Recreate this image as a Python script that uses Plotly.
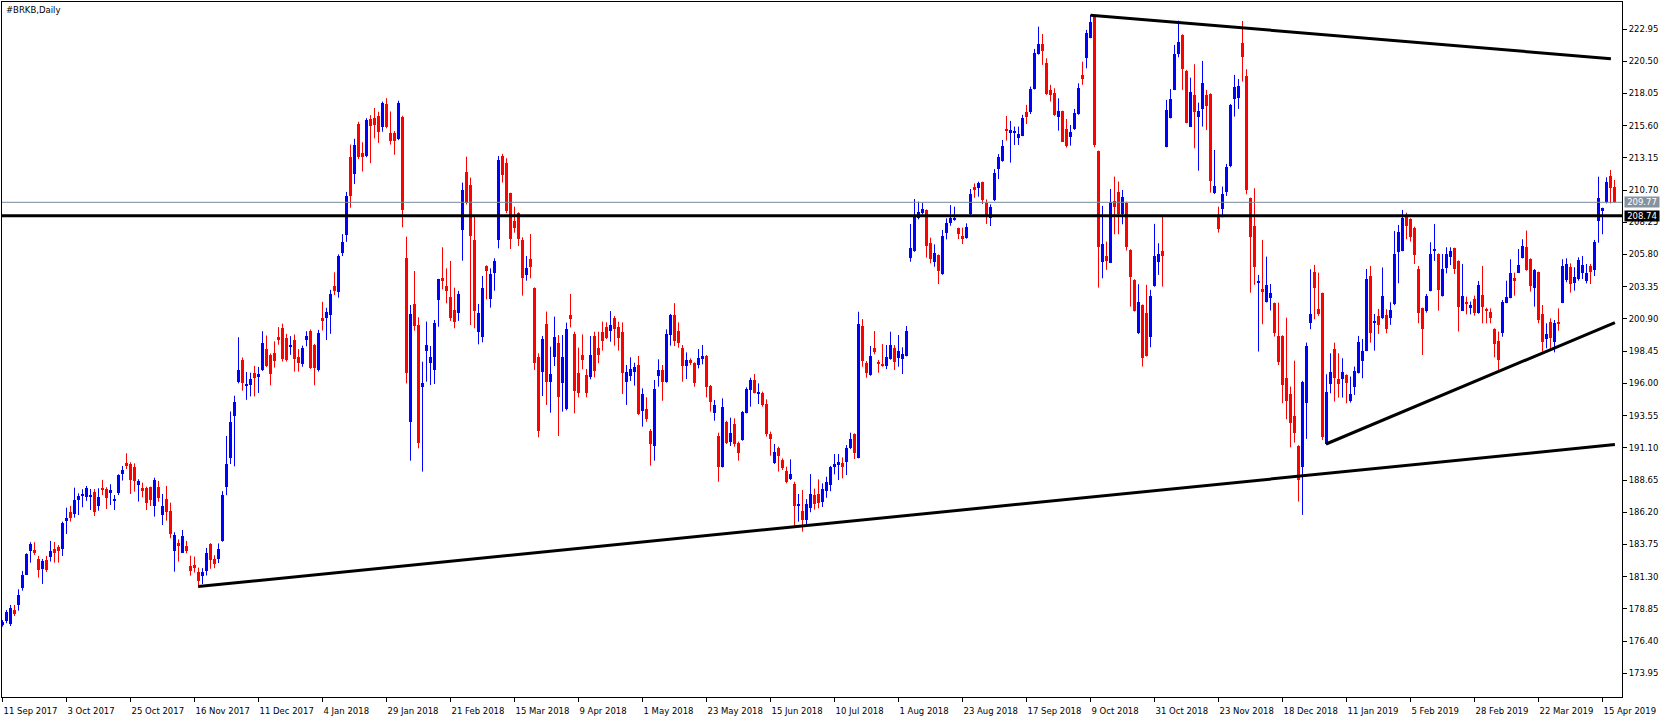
import plotly.graph_objects as go

title_text = "#BRKB,Daily"

date_labels = ["11 Sep 2017", "3 Oct 2017", "25 Oct 2017", "16 Nov 2017", "11 Dec 2017",
               "4 Jan 2018", "29 Jan 2018", "21 Feb 2018", "15 Mar 2018", "9 Apr 2018",
               "1 May 2018", "23 May 2018", "15 Jun 2018", "10 Jul 2018", "1 Aug 2018",
               "23 Aug 2018", "17 Sep 2018", "9 Oct 2018", "31 Oct 2018", "23 Nov 2018",
               "18 Dec 2018", "11 Jan 2019", "5 Feb 2019", "28 Feb 2019", "22 Mar 2019",
               "15 Apr 2019"]
date_label_bars = [0, 16, 32, 48, 64, 80, 96, 112, 128, 144, 160, 176, 192, 208, 224,
                   240, 256, 272, 288, 304, 320, 336, 352, 368, 384, 400]

price_ticks = [173.95, 176.40, 178.85, 181.30, 183.75, 186.20, 188.65, 191.10, 193.55,
               196.00, 198.45, 200.90, 203.35, 205.80, 208.25, 210.70, 213.15, 215.60,
               218.05, 220.50, 222.95]

opens = [177.63, 177.96, 177.71, 178.77, 179.15, 180.42, 181.43, 183.28, 183.33, 182.65,
         181.89, 182.57, 182.77, 183.41, 183.59, 183.41, 185.56, 186.25, 186.07, 187.13,
         187.46, 187.39, 187.41, 187.74, 186.68, 188.07, 187.97, 187.69, 187.08, 187.69,
         189.11, 189.92, 189.87, 189.62, 188.28, 188.07, 188.07, 188.12, 186.68, 188.15,
         185.99, 187.21, 186.30, 183.28, 183.89, 183.13, 183.64, 182.14, 182.19, 181.68,
         181.34, 181.77, 183.78, 182.62, 182.67, 184.03, 188.15, 190.33, 193.55, 196.12,
         197.76, 195.78, 195.86, 196.81, 196.55, 196.99, 198.61, 198.17, 198.30, 199.51,
         200.20, 199.46, 198.84, 199.30, 198.02, 197.51, 199.30, 200.02, 198.92, 196.99,
         200.98, 201.00, 201.18, 203.42, 202.98, 205.94, 207.30, 213.19, 211.93, 215.76,
         213.52, 213.26, 216.09, 216.17, 216.35, 215.53, 217.25, 215.06, 215.06, 214.55,
         216.22, 205.56, 193.09, 202.01, 200.44, 195.70, 198.49, 197.58, 197.02, 202.34,
         204.04, 203.43, 202.60, 201.58, 201.38, 207.67, 212.10, 211.09, 206.91, 199.93,
         199.55, 204.93, 202.39, 204.37, 206.91, 213.29, 212.79, 210.45, 208.35, 208.93,
         206.91, 204.24, 205.44, 203.23, 197.98, 196.89, 200.49, 196.13, 198.03, 199.05,
         196.00, 194.03, 201.20, 199.76, 196.77, 198.16, 196.64, 196.51, 199.60, 198.72,
         199.93, 200.26, 199.98, 200.95, 200.31, 199.88, 196.13, 196.59, 196.89, 197.40,
         193.92, 194.05, 192.38, 191.26, 196.56, 197.02, 196.13, 199.68, 201.20, 199.98,
         198.66, 197.35, 197.78, 197.52, 197.40, 197.85, 198.11, 195.80, 193.72, 191.99,
         189.67, 193.04, 191.52, 192.91, 191.44, 191.69, 193.77, 195.50, 196.26, 195.22,
         195.24, 194.43, 192.12, 189.97, 191.06, 190.17, 189.36, 188.73, 188.35, 186.67,
         186.32, 185.60, 186.50, 187.50, 187.60, 187.00, 187.80, 188.30, 189.61, 189.79,
         189.97, 189.99, 191.11, 192.15, 190.35, 200.39, 197.57, 196.64, 198.66, 197.55,
         197.47, 197.35, 197.85, 198.66, 197.95, 197.85, 198.11, 205.51, 206.09, 208.55,
         208.98, 209.18, 206.70, 205.20, 205.76, 204.32, 207.46, 208.17, 208.45, 207.79,
         207.23, 207.08, 208.85, 210.91, 210.83, 211.29, 209.69, 208.60, 209.94, 212.30,
         212.91, 215.35, 215.07, 215.07, 214.69, 214.82, 216.62, 216.67, 218.39, 221.03,
         221.81, 220.40, 218.32, 218.06, 216.29, 216.72, 215.35, 214.77, 215.33, 216.47,
         219.46, 220.78, 222.30, 223.94, 213.68, 205.26, 205.69, 205.19, 209.88, 210.59,
         208.89, 209.75, 206.15, 203.87, 199.81, 201.97, 201.33, 199.51, 203.41, 205.21,
         206.07, 214.01, 216.21, 218.32, 221.05, 222.50, 219.76, 215.53, 217.94, 216.24,
         216.85, 217.94, 218.01, 210.46, 208.81, 209.27, 210.59, 212.56, 217.61, 217.73,
         221.92, 219.38, 210.08, 207.97, 203.66, 203.18, 202.22, 202.47, 202.09, 199.61,
         199.61, 196.39, 195.20, 193.53, 191.24, 189.67, 194.49, 200.62, 204.50, 201.66,
         202.85, 191.40, 195.93, 198.59, 196.34, 196.31, 196.64, 194.69, 195.76, 196.82,
         197.73, 198.49, 204.17, 200.62, 201.13, 200.95, 201.21, 200.95, 202.02, 205.97,
         206.10, 208.68, 208.48, 207.79, 204.68, 201.71, 201.53, 203.05, 206.10, 205.84,
         202.65, 204.75, 205.64, 206.27, 205.31, 201.53, 202.17, 201.76, 202.42, 201.33,
         202.72, 201.66, 201.46, 200.14, 199.25, 199.86, 202.14, 202.52, 204.04, 204.42,
         205.51, 206.35, 205.46, 203.28, 204.45, 201.28, 199.38, 200.70, 199.17, 200.65,
         202.14, 203.86, 204.83, 203.61, 203.94, 204.37, 203.81, 204.93, 204.62, 208.38,
         209.11, 209.77, 211.77, 210.91]

highs = [178.00, 178.77, 179.15, 179.15, 180.34, 181.74, 183.08, 183.92, 183.92, 182.88,
         182.65, 182.88, 184.02, 183.94, 183.71, 185.49, 186.55, 186.68, 188.07, 187.64,
         187.95, 188.20, 187.97, 187.97, 188.02, 188.66, 188.10, 188.33, 187.51, 189.09,
         189.72, 190.68, 190.00, 189.92, 188.71, 188.45, 188.15, 188.15, 188.83, 188.58,
         187.59, 188.20, 186.93, 184.68, 184.14, 184.85, 184.02, 182.90, 182.83, 181.99,
         181.95, 183.49, 183.85, 182.93, 183.83, 187.81, 192.00, 193.86, 195.06, 199.51,
         197.97, 196.86, 196.81, 197.33, 197.25, 199.97, 199.64, 198.28, 199.20, 200.28,
         200.54, 199.77, 199.59, 199.72, 198.61, 198.87, 199.97, 200.10, 199.00, 200.07,
         202.21, 201.75, 203.11, 204.45, 205.81, 207.35, 210.56, 214.16, 214.60, 215.89,
         214.34, 216.17, 216.40, 216.94, 216.66, 217.43, 217.69, 216.68, 215.19, 217.50,
         216.35, 207.16, 201.96, 204.55, 201.03, 197.65, 200.70, 198.84, 200.82, 203.95,
         206.35, 204.75, 205.31, 203.28, 203.03, 211.27, 213.24, 211.65, 208.68, 202.04,
         204.17, 204.98, 204.75, 205.51, 213.29, 213.45, 213.12, 210.50, 209.44, 209.01,
         207.11, 205.69, 207.36, 203.30, 198.29, 199.60, 201.46, 198.79, 201.08, 199.68,
         199.68, 200.62, 202.80, 199.93, 198.72, 199.73, 197.09, 199.60, 199.93, 199.93,
         200.70, 200.64, 201.50, 201.12, 200.69, 200.64, 197.40, 197.98, 197.57, 198.08,
         195.62, 194.94, 192.53, 196.26, 197.83, 197.40, 200.11, 201.28, 202.10, 200.64,
         198.92, 198.36, 197.90, 197.60, 198.61, 198.92, 198.16, 195.88, 194.74, 192.25,
         194.86, 193.16, 193.39, 193.34, 191.57, 193.90, 195.70, 196.43, 196.71, 196.00,
         195.37, 194.79, 192.33, 191.39, 191.19, 190.30, 189.67, 190.22, 188.52, 187.59,
         187.89, 187.20, 189.10, 188.00, 188.70, 188.40, 188.90, 189.72, 190.63, 190.63,
         190.37, 191.31, 192.25, 192.20, 201.45, 200.89, 197.70, 198.84, 199.98, 197.78,
         198.99, 198.92, 199.93, 198.92, 199.68, 198.74, 200.36, 208.12, 210.02, 209.82,
         209.74, 209.23, 207.08, 206.57, 205.81, 207.66, 208.55, 209.56, 209.44, 207.84,
         207.84, 208.17, 210.78, 211.21, 211.34, 211.34, 209.99, 209.61, 212.30, 213.44,
         214.51, 216.34, 215.96, 215.53, 215.53, 216.42, 217.18, 218.57, 221.43, 223.13,
         222.57, 220.72, 218.70, 218.44, 217.68, 216.74, 216.11, 215.65, 216.87, 218.82,
         220.47, 222.88, 224.02, 224.02, 213.70, 209.50, 206.78, 210.79, 211.73, 211.35,
         210.71, 209.82, 206.20, 203.92, 203.54, 202.00, 203.49, 203.11, 208.13, 206.66,
         208.68, 217.56, 218.39, 221.74, 223.59, 222.55, 219.84, 219.25, 220.27, 217.35,
         220.52, 218.32, 218.06, 213.75, 209.44, 210.97, 212.69, 217.25, 219.46, 219.15,
         223.56, 219.89, 210.13, 210.84, 204.25, 206.91, 205.64, 203.56, 202.14, 202.14,
         199.66, 201.00, 195.76, 197.73, 191.30, 196.19, 199.10, 204.68, 205.01, 204.42,
         202.90, 196.69, 198.29, 199.10, 198.29, 197.91, 196.69, 196.52, 197.28, 199.61,
         199.38, 204.70, 204.93, 201.28, 201.66, 204.81, 201.64, 202.17, 207.59, 208.05,
         209.19, 208.98, 208.55, 207.92, 204.93, 201.76, 202.80, 206.73, 208.12, 205.89,
         205.84, 206.35, 206.35, 206.32, 205.36, 205.08, 202.60, 202.22, 202.67, 203.79,
         204.93, 201.76, 201.71, 200.19, 199.94, 202.34, 203.81, 205.44, 204.42, 206.22,
         206.96, 207.62, 205.51, 204.70, 204.50, 201.96, 200.57, 200.95, 200.82, 201.71,
         205.44, 205.51, 205.13, 204.83, 205.59, 205.69, 205.08, 205.08, 206.91, 211.72,
         209.36, 211.67, 212.23, 211.47]

lows = [177.50, 177.76, 177.55, 178.31, 178.72, 180.24, 181.43, 182.37, 182.95, 181.23,
        180.75, 181.66, 182.45, 182.37, 182.37, 182.88, 184.55, 185.49, 185.79, 185.99,
        186.58, 187.06, 186.37, 185.92, 186.32, 187.51, 186.45, 186.75, 186.37, 187.51,
        188.61, 189.49, 187.59, 187.77, 187.01, 187.34, 186.37, 186.68, 185.87, 187.01,
        185.23, 185.56, 184.22, 181.68, 182.45, 183.13, 183.08, 181.38, 181.61, 180.59,
        180.74, 181.39, 181.90, 181.95, 182.34, 183.96, 187.50, 189.87, 189.69, 196.00,
        195.45, 194.75, 195.01, 195.01, 195.27, 196.94, 197.25, 195.86, 197.20, 198.94,
        197.66, 197.66, 198.17, 196.89, 196.89, 197.27, 198.82, 197.10, 195.86, 196.90,
        200.02, 199.30, 199.77, 202.72, 202.52, 205.68, 206.76, 209.36, 211.16, 213.06,
        212.11, 213.20, 212.75, 214.63, 214.29, 215.14, 215.40, 214.16, 213.39, 214.50,
        207.87, 196.00, 190.12, 200.01, 191.06, 189.29, 196.13, 195.88, 195.95, 200.31,
        203.15, 202.09, 200.75, 200.19, 200.75, 205.33, 209.60, 200.44, 200.19, 198.97,
        199.12, 202.39, 201.76, 203.05, 206.27, 211.27, 208.95, 206.22, 207.46, 206.45,
        202.67, 203.81, 203.99, 197.02, 191.90, 195.04, 194.36, 193.77, 197.32, 192.00,
        193.85, 193.95, 200.26, 193.72, 194.94, 197.07, 194.94, 196.31, 196.46, 197.53,
        198.49, 199.38, 199.17, 198.87, 198.49, 195.19, 194.36, 196.18, 195.83, 193.60,
        192.71, 193.09, 189.74, 190.12, 195.75, 194.68, 196.05, 198.87, 198.84, 198.72,
        196.13, 196.33, 197.40, 195.75, 197.14, 197.45, 194.94, 193.85, 193.16, 188.52,
        189.60, 191.39, 191.24, 191.19, 190.12, 191.64, 193.72, 194.23, 195.24, 194.43,
        194.23, 191.95, 190.50, 189.87, 189.29, 189.41, 188.40, 188.65, 185.15, 185.48,
        184.72, 185.20, 186.20, 186.40, 186.50, 186.60, 187.30, 187.80, 189.08, 188.65,
        188.78, 189.03, 191.01, 190.25, 190.30, 197.27, 196.43, 196.58, 198.21, 196.81,
        197.27, 197.09, 197.80, 197.02, 197.27, 196.71, 198.05, 205.25, 206.00, 208.47,
        208.85, 205.56, 205.13, 204.87, 203.56, 204.25, 206.95, 207.99, 208.37, 206.98,
        206.60, 207.00, 208.80, 210.12, 210.20, 209.64, 208.12, 207.97, 209.87, 211.54,
        212.85, 214.46, 212.79, 214.13, 214.13, 214.80, 215.73, 216.49, 218.35, 221.00,
        220.22, 217.94, 217.43, 216.34, 215.22, 214.36, 213.93, 214.08, 215.27, 216.42,
        218.70, 219.96, 222.25, 213.96, 203.28, 203.99, 204.63, 205.15, 207.34, 207.34,
        208.10, 206.10, 201.84, 201.46, 199.75, 197.28, 198.04, 198.75, 203.35, 204.25,
        203.36, 213.95, 216.15, 218.30, 220.80, 218.32, 215.78, 215.50, 213.88, 212.18,
        215.53, 215.27, 210.51, 210.40, 207.47, 208.63, 210.26, 212.44, 216.29, 216.87,
        218.95, 210.38, 202.90, 203.49, 198.42, 200.50, 202.15, 201.54, 199.56, 197.40,
        194.49, 193.27, 191.14, 191.50, 187.01, 186.00, 191.78, 200.12, 200.88, 201.13,
        191.70, 191.32, 195.25, 194.62, 194.92, 194.92, 194.49, 194.54, 195.12, 196.75,
        196.39, 198.45, 199.10, 198.49, 199.76, 200.90, 199.81, 200.45, 201.95, 203.61,
        206.05, 206.96, 206.78, 205.08, 200.57, 198.16, 201.38, 203.00, 205.31, 201.53,
        202.60, 204.37, 205.00, 204.32, 199.94, 201.50, 201.25, 201.25, 201.15, 201.30,
        200.57, 200.57, 200.57, 197.98, 196.97, 199.55, 202.10, 202.47, 202.67, 204.40,
        205.50, 204.57, 202.98, 201.84, 200.57, 198.41, 198.67, 198.49, 198.36, 200.01,
        202.10, 203.69, 202.90, 203.05, 203.81, 203.94, 203.61, 203.56, 204.17, 206.70,
        207.34, 209.69, 209.69, 209.75]

closes = [177.83, 178.64, 178.90, 178.47, 179.91, 181.43, 183.03, 183.79, 183.08, 181.81,
          182.50, 181.81, 183.26, 183.08, 183.26, 185.41, 185.74, 185.79, 187.13, 187.46,
          187.54, 188.02, 187.46, 186.25, 187.39, 187.89, 187.31, 187.89, 187.24, 189.04,
          189.42, 189.72, 188.66, 188.61, 188.61, 187.84, 186.93, 187.13, 188.66, 187.26,
          186.68, 186.25, 184.55, 184.47, 183.66, 184.40, 183.28, 181.74, 181.99, 181.00,
          181.64, 183.13, 182.54, 182.29, 183.44, 187.48, 189.87, 193.03, 194.55, 197.02,
          196.04, 195.99, 196.35, 196.43, 196.68, 199.07, 197.33, 196.68, 197.71, 199.30,
          197.84, 197.76, 198.89, 197.84, 197.58, 198.69, 199.59, 197.20, 197.20, 199.82,
          200.72, 201.44, 202.80, 203.03, 205.68, 206.76, 210.23, 210.26, 214.16, 213.19,
          213.21, 216.01, 215.58, 215.65, 215.14, 217.30, 215.53, 214.42, 214.42, 217.32,
          209.15, 196.82, 201.28, 200.39, 191.44, 196.00, 198.92, 197.98, 200.62, 203.91,
          203.81, 203.05, 201.00, 200.70, 202.80, 210.71, 209.69, 207.24, 201.53, 201.38,
          203.23, 204.57, 204.32, 205.31, 212.99, 211.85, 209.11, 206.98, 207.84, 206.96,
          203.99, 204.75, 204.83, 197.58, 192.41, 199.35, 196.13, 196.69, 199.55, 194.99,
          197.98, 200.11, 200.87, 195.45, 195.30, 197.78, 195.25, 198.16, 196.97, 198.16,
          199.25, 199.48, 200.44, 200.11, 199.43, 196.81, 196.89, 197.09, 197.27, 193.67,
          195.19, 193.29, 191.39, 195.57, 197.02, 196.13, 199.75, 201.20, 199.25, 199.10,
          197.35, 197.78, 197.52, 196.00, 197.90, 198.11, 195.75, 194.61, 194.36, 189.67,
          194.18, 191.44, 192.20, 191.39, 190.68, 193.80, 195.57, 196.26, 195.29, 195.27,
          194.36, 192.12, 191.74, 190.81, 190.50, 189.54, 188.52, 189.11, 186.67, 186.83,
          185.61, 186.80, 187.60, 186.80, 186.90, 188.00, 188.50, 189.61, 189.87, 190.05,
          189.61, 191.06, 191.77, 190.68, 200.51, 197.72, 196.81, 198.08, 198.41, 197.50,
          197.35, 197.98, 198.92, 197.65, 198.46, 198.21, 199.98, 206.32, 208.68, 209.06,
          209.23, 206.45, 205.43, 205.89, 204.57, 207.21, 208.22, 208.60, 208.50, 207.33,
          206.98, 207.87, 210.37, 210.78, 211.26, 209.94, 208.80, 209.39, 211.97, 213.19,
          214.08, 215.22, 215.27, 215.20, 214.97, 216.21, 216.29, 218.39, 221.16, 221.81,
          221.31, 218.01, 217.94, 216.42, 216.72, 214.39, 214.06, 215.10, 216.54, 218.44,
          219.15, 222.63, 223.46, 214.13, 206.40, 206.61, 205.34, 209.82, 209.44, 208.89,
          210.15, 206.40, 204.12, 201.54, 202.17, 197.91, 198.09, 202.65, 205.69, 205.82,
          205.69, 216.80, 217.63, 221.05, 221.94, 219.91, 215.83, 218.14, 216.67, 216.72,
          218.82, 217.10, 211.42, 211.02, 207.72, 210.38, 212.44, 217.18, 218.52, 218.62,
          220.85, 210.71, 207.16, 204.88, 203.79, 202.98, 203.49, 202.85, 199.81, 197.66,
          195.88, 194.69, 192.97, 192.26, 188.66, 196.14, 198.85, 201.28, 203.28, 201.28,
          191.90, 195.38, 196.90, 196.44, 195.96, 196.90, 196.01, 195.20, 196.95, 199.18,
          198.49, 203.94, 199.81, 200.75, 200.45, 202.65, 200.12, 201.59, 205.82, 207.49,
          208.55, 207.97, 207.11, 205.77, 201.38, 200.14, 202.65, 205.84, 206.22, 203.10,
          204.70, 205.84, 206.07, 204.70, 201.84, 202.65, 202.04, 201.96, 201.33, 203.48,
          201.84, 201.53, 201.00, 199.00, 197.78, 202.22, 202.60, 204.42, 203.81, 205.00,
          206.45, 204.62, 203.41, 204.62, 200.82, 199.17, 199.76, 199.43, 200.62, 200.52,
          204.93, 205.08, 203.56, 204.12, 205.38, 205.00, 204.42, 204.50, 206.73, 210.07,
          209.31, 211.29, 210.83, 209.77]

bid_price = 209.77
level_price = 208.74

# hand-drawn trendlines: (bar0, price0, bar1, price1)
trendlines = [(48.9, 180.55, 403.1, 191.35),
              (272.0, 224.00, 402.1, 220.69),
              (330.9, 191.39, 403.1, 200.62)]

UP = "#0000FF"
DOWN = "#FF0000"
FONT = "DejaVu Sans"

n = len(closes)
fig = go.Figure()

for is_up, color in ((True, UP), (False, DOWN)):
    idx = [i for i in range(n) if (closes[i] >= opens[i]) == is_up]
    wx, wy = [], []
    for i in idx:
        wx += [i, i, None]
        wy += [lows[i], highs[i], None]
    fig.add_trace(go.Scatter(x=wx, y=wy, mode="lines",
                             line=dict(color=color, width=1),
                             hoverinfo="skip", showlegend=False))
    hts, bases = [], []
    for i in idx:
        lo_b = min(opens[i], closes[i])
        h = abs(closes[i] - opens[i])
        mh = 0.08
        if h < mh:
            lo_b -= (mh - h) / 2
            h = mh
        hts.append(h)
        bases.append(lo_b)
    fig.add_trace(go.Bar(x=idx, y=hts, base=bases, width=0.75,
                         marker=dict(color=color, line=dict(width=0)),
                         hoverinfo="skip", showlegend=False))

shapes = []
for (x0, y0, x1, y1) in trendlines:
    shapes.append(dict(type="line", xref="x", yref="y", x0=x0, y0=y0, x1=x1, y1=y1,
                       line=dict(color="black", width=3)))
shapes.append(dict(type="line", xref="paper", yref="y", x0=0, x1=1,
                   y0=bid_price, y1=bid_price, line=dict(color="#778899", width=1)))
shapes.append(dict(type="line", xref="paper", yref="y", x0=0, x1=1,
                   y0=level_price, y1=level_price, line=dict(color="black", width=3)))

annotations = [
    dict(xref="paper", yref="paper", x=0, y=1, xanchor="left", yanchor="top",
         xshift=2, yshift=-1, text=title_text, showarrow=False,
         font=dict(family=FONT, size=8.5, color="black")),
    dict(xref="paper", yref="y", x=1, y=bid_price, xanchor="left", yanchor="middle",
         xshift=2, text=f"{bid_price:.2f}", showarrow=False, bgcolor="#8592a0",
         width=34, height=10, borderpad=0,
         font=dict(family=FONT, size=8.5, color="white")),
    dict(xref="paper", yref="y", x=1, y=level_price, xanchor="left", yanchor="middle",
         xshift=2, text=f"{level_price:.2f}", showarrow=False, bgcolor="black",
         width=34, height=10, borderpad=0,
         font=dict(family=FONT, size=8.5, color="white")),
]

fig.update_layout(
    width=1670, height=727,
    margin=dict(l=2, r=48, t=2, b=30),
    paper_bgcolor="white", plot_bgcolor="white",
    barmode="overlay", bargap=0,
    showlegend=False,
    shapes=shapes, annotations=annotations,
    xaxis=dict(range=[-0.125, 404.875], showgrid=False, zeroline=False,
               tickmode="array", tickvals=date_label_bars, ticktext=date_labels,
               ticks="outside", ticklen=4, tickcolor="black", tickwidth=1,
               showline=True, linecolor="black", linewidth=1, mirror=True,
               ticklabelposition="outside right", ticklabelstandoff=6,
               tickfont=dict(family=FONT, size=8.5, color="black"),
               fixedrange=True),
    yaxis=dict(range=[172.15, 225.003], side="right", showgrid=False, zeroline=False,
               tickmode="array", tickvals=price_ticks,
               ticktext=[f"{v:.2f}" for v in price_ticks],
               ticks="outside", ticklen=4, tickcolor="black", tickwidth=1,
               showline=True, linecolor="black", linewidth=1, mirror=True,
               tickfont=dict(family=FONT, size=8.5, color="black"),
               fixedrange=True),
)

fig.write_html("out.html", config={"displayModeBar": False},
               post_script="document.body.style.margin='0';document.body.style.overflow='hidden';")
